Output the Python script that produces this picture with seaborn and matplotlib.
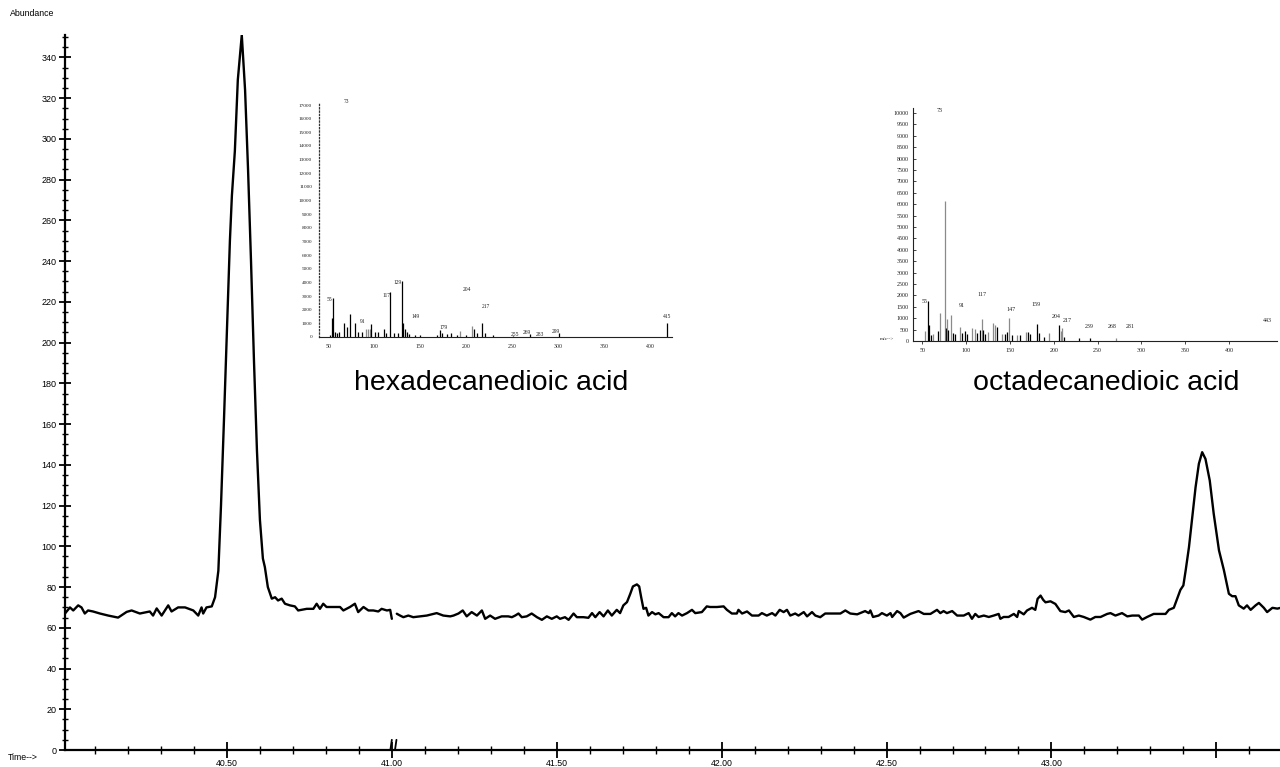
import numpy as np
import pandas as pd
import matplotlib
matplotlib.use("Agg")
import matplotlib.pyplot as plt
from matplotlib.ticker import FixedLocator
import seaborn as sns

# ---------------- chromatogram data (time in min, abundance) ----------------
trace_a = [
    (40.009, 67), (40.024, 70), (40.034, 68.5), (40.049, 71), (40.059, 70),
    (40.069, 67), (40.079, 68.5), (40.094, 68), (40.115, 67), (40.140, 66),
    (40.170, 65), (40.196, 67.8), (40.211, 68.5), (40.236, 67), (40.266, 68),
    (40.276, 66), (40.287, 69.5), (40.302, 66), (40.322, 71), (40.332, 68),
    (40.352, 70), (40.373, 70), (40.398, 68.5), (40.413, 66), (40.423, 70),
    (40.428, 67), (40.438, 70), (40.454, 70.5), (40.464, 75), (40.474, 88),
    (40.482, 120), (40.491, 162), (40.500, 206), (40.509, 250), (40.515, 272),
    (40.524, 294), (40.533, 329), (40.545, 351), (40.555, 324), (40.564, 285),
    (40.573, 240), (40.582, 191), (40.591, 147), (40.600, 113), (40.609, 94),
    (40.615, 89.8), (40.624, 80), (40.636, 74.3), (40.646, 75), (40.655, 73.4),
    (40.666, 74.3), (40.676, 71.8), (40.691, 71), (40.706, 70.5), (40.716, 68.5),
    (40.742, 69.3), (40.762, 69.3), (40.772, 71.8), (40.782, 69.3), (40.792, 71.8),
    (40.802, 70.2), (40.823, 70.2), (40.843, 70.2), (40.853, 68.5), (40.873, 70.2),
    (40.888, 71.8), (40.898, 67.7), (40.914, 70.2), (40.929, 68.5), (40.944, 68.5),
    (40.959, 68), (40.969, 69.3), (40.985, 68.5), (40.995, 68.8), (41.000, 64.4),
]
trace_b = [
    (41.015, 66.9), (41.025, 66), (41.035, 65.2), (41.050, 66), (41.065, 65.2),
    (41.086, 65.6), (41.106, 66), (41.136, 67.2), (41.156, 66), (41.177, 65.6),
    (41.187, 66), (41.202, 67), (41.215, 68.5), (41.227, 65.6), (41.242, 67.7),
    (41.258, 66), (41.273, 68.5), (41.283, 64.4), (41.298, 66), (41.313, 64.4),
    (41.333, 65.6), (41.353, 65.6), (41.364, 65.2), (41.374, 66), (41.384, 67),
    (41.394, 65.2), (41.409, 65.6), (41.424, 67), (41.440, 65.2), (41.455, 63.9),
    (41.470, 65.6), (41.485, 64.4), (41.500, 65.6), (41.510, 64.4), (41.525, 65.2),
    (41.536, 63.9), (41.551, 67), (41.561, 65.2), (41.581, 65.2), (41.596, 64.9),
    (41.607, 67.2), (41.617, 65.2), (41.630, 67.7), (41.642, 65.6), (41.655, 68.5),
    (41.667, 66), (41.682, 68.8), (41.692, 67.2), (41.702, 71), (41.713, 72.6),
    (41.723, 76.7), (41.731, 80.3), (41.743, 81.3), (41.750, 80.3), (41.756, 75),
    (41.763, 69.3), (41.771, 69.8), (41.778, 66), (41.789, 67.7), (41.799, 66.6),
    (41.809, 67.2), (41.824, 65.2), (41.839, 65.2), (41.849, 67.2), (41.859, 65.6),
    (41.869, 67.2), (41.880, 66), (41.895, 67.2), (41.910, 68.8), (41.920, 67.2),
    (41.940, 67.7), (41.955, 70.5), (41.965, 70.2), (41.986, 70.2), (42.006, 70.5),
    (42.016, 68.8), (42.031, 67), (42.046, 67), (42.051, 68.8), (42.062, 67),
    (42.077, 68), (42.092, 66), (42.112, 66), (42.122, 67.2), (42.137, 66),
    (42.153, 67.2), (42.163, 66), (42.176, 68.8), (42.188, 67.7), (42.198, 68.8),
    (42.208, 66), (42.223, 67), (42.233, 66), (42.249, 67.7), (42.259, 65.6),
    (42.274, 67.7), (42.284, 66), (42.299, 65.2), (42.314, 67), (42.335, 67),
    (42.360, 67), (42.375, 68.5), (42.390, 67), (42.411, 66.6), (42.420, 67.2),
    (42.435, 68.2), (42.446, 67.2), (42.451, 68.5), (42.459, 65.3), (42.476, 66),
    (42.486, 67.2), (42.501, 66), (42.512, 67.2), (42.517, 65.3), (42.532, 68.2),
    (42.542, 67.2), (42.552, 65), (42.572, 66.8), (42.597, 68.2), (42.613, 66.8),
    (42.633, 66.8), (42.653, 68.8), (42.663, 67.2), (42.673, 68.2), (42.683, 67.2),
    (42.699, 68.2), (42.714, 66), (42.734, 66), (42.749, 67.2), (42.759, 64.4),
    (42.769, 66.8), (42.779, 65.3), (42.795, 66), (42.810, 65.3), (42.825, 66),
    (42.840, 66.8), (42.845, 64.4), (42.855, 65.3), (42.870, 65.3), (42.886, 66.8),
    (42.896, 65.3), (42.901, 68.2), (42.916, 66.6), (42.926, 68.5), (42.941, 69.8),
    (42.951, 68.8), (42.958, 74.2), (42.967, 75.8), (42.975, 73.7), (42.982, 72.5),
    (42.997, 73), (43.012, 71.7), (43.027, 68.2), (43.042, 67.7), (43.053, 68.5),
    (43.068, 65.3), (43.083, 66), (43.098, 65.3), (43.118, 64), (43.133, 65.3),
    (43.149, 65.3), (43.169, 66.8), (43.179, 67.2), (43.194, 66), (43.214, 67.2),
    (43.230, 65.6), (43.245, 66), (43.265, 66), (43.275, 64), (43.290, 65.3),
    (43.310, 66.8), (43.331, 66.8), (43.346, 66.8), (43.356, 68.8), (43.371, 69.8),
    (43.381, 74.2), (43.391, 78.6), (43.400, 80.8), (43.407, 88.2), (43.417, 99.6),
    (43.427, 114.4), (43.437, 129), (43.447, 140.5), (43.457, 146.2), (43.467, 142.9),
    (43.480, 132.3), (43.492, 116), (43.508, 98), (43.523, 88.2), (43.538, 76.7),
    (43.548, 75.5), (43.558, 75.5), (43.568, 71), (43.583, 69.4), (43.593, 71),
    (43.604, 68.8), (43.619, 71), (43.629, 72.2), (43.644, 69.8), (43.654, 67.7),
    (43.670, 69.8), (43.685, 69.4), (43.695, 69.8),
]

y_major = [0, 20, 40, 60, 80, 100, 120, 140, 160, 180, 200, 220, 240, 260, 280, 300, 320, 340]
x_major = [40.5, 41.0, 41.5, 42.0, 42.5, 43.0, 43.5]
x_major_labels = ["40.50", "41.00", "41.50", "42.00", "42.50", "43.00", ""]
compound_names = ["hexadecanedioic acid", "octadecanedioic acid"]

# ---------------- inset 1: hexadecanedioic acid spectrum ----------------
ms1_mz = [52, 54, 55, 57, 59, 61, 67, 70, 73, 79, 82, 86, 91, 93, 95, 96, 101, 104,
          110, 113, 117, 121, 126, 130, 131, 133, 135, 138, 144, 150, 168, 171, 174,
          179, 183, 190, 193, 200, 206, 208, 211, 217, 220, 229, 251, 269, 301, 418]
ms1_int = [147, 1368, 2833, 391, 317, 391, 1001, 708, 1685, 1001, 391, 391, 562, 562,
           562, 928, 391, 391, 562, 269, 3321, 269, 317, 4103, 1050, 562, 391, 220, 147,
           147, 147, 513, 269, 220, 317, 147, 464, 147, 806, 562, 317, 1001, 269, 147,
           73, 220, 269, 1050]
ms1_shade = ["k", "k", "k", "k", "k", "k", "k", "k", "k", "k", "k", "k", "g", "g",
             "g", "k", "k", "k", "k", "k", "k", "k", "k", "k", "k", "k", "k", "k", "k",
             "k", "k", "k", "k", "k", "k", "k", "g", "k", "g", "k", "k", "k", "k", "k",
             "k", "k", "k", "k"]
ms1_labels = ["73", "55", "91", "117", "129", "149", "179", "204", "217", "255", "269", "283", "299", "415"]
ms1_label_mz = [70, 51, 87.3, 113.4, 124.9, 144.9, 174.9, 200.3, 221, 252.8, 265.5, 280, 297.4, 417.7]
ms1_label_y = [17238, 2762, 1121, 3077, 3978, 1487, 711, 3516, 2271, 150, 350, 150, 391, 1487]
ms1_yticks = list(range(0, 17001, 1000))
ms1_xticks = [50, 100, 150, 200, 250, 300, 350, 400]

# ---------------- inset 2: octadecanedioic acid spectrum ----------------
ms2_mz = [52.9, 55.9, 57.4, 59.7, 62.4, 68, 70, 75.7, 76.8, 78.3, 79.5, 82.2, 84.4, 87.1,
          92.8, 94.7, 98.5, 100.4, 106.1, 109.9, 111.8, 115.6, 117.6, 118.7, 121.3, 125.1,
          130.1, 132.8, 134.7, 140.4, 144.2, 146.8, 148.7, 151.8, 157.5, 161.3, 167.8,
          170.1, 172.7, 180.4, 183, 188.7, 194.8, 205.8, 207.7, 209.6, 211.5, 228.7,
          241.2, 270.9]
ms2_int = [439, 1769, 702, 263, 292, 439, 1213, 6140, 556, 965, 482, 1140, 336, 292,
           629, 336, 453, 292, 585, 526, 336, 482, 965, 482, 292, 380, 789, 702, 629,
           292, 292, 380, 1023, 263, 263, 263, 380, 409, 322, 746, 336, 190, 336, 702,
           453, 585, 190, 117, 117, 117]
ms2_shade = ["g", "k", "k", "k", "g", "k", "g", "g", "k", "g", "k", "g", "k", "k",
             "g", "k", "k", "k", "g", "g", "k", "k", "g", "k", "k", "g", "g", "g", "k",
             "g", "k", "k", "g", "k", "g", "k", "g", "k", "k", "k", "k", "k", "g", "k",
             "g", "g", "k", "k", "k", "g"]
ms2_labels = ["73", "55", "91", "117", "147", "159", "204", "217", "239", "268", "281", "443"]
ms2_label_mz = [70, 52.9, 94.7, 117.6, 150.7, 179.2, 203.2, 215.3, 240.1, 266.7, 287.7, 443.6]
ms2_label_y = [10088, 1724, 1548, 2018, 1360, 1579, 1096, 890, 627, 627, 627, 890]
ms2_yticks = list(range(0, 10001, 500))
ms2_xticks = [50, 100, 150, 200, 250, 300, 350, 400]

# ---------------- styling ----------------
sns.set_theme(style="ticks")
plt.rcParams['font.family'] = ['Liberation Sans', 'DejaVu Sans']
plt.rcParams['text.color'] = 'black'
SERIF = ['Liberation Serif', 'DejaVu Serif']
W, H = 1280, 767
GRAY = "#8a8a8a"

fig = plt.figure(figsize=(12.8, 7.67), dpi=100)
fig.patch.set_facecolor("white")

ax = fig.add_axes([65 / W, 17 / H, (W - 65) / W, (750 - 35) / H])
ax.set_facecolor("none")

df = pd.concat([
    pd.DataFrame(trace_a, columns=["time", "abundance"]).assign(segment=0),
    pd.DataFrame(trace_b, columns=["time", "abundance"]).assign(segment=1),
], ignore_index=True)

sns.lineplot(data=df, x="time", y="abundance", units="segment", estimator=None,
             sort=False, color="black", lw=1.7, ax=ax, legend=False)

ax.set_xlim(40.009, 43.693)
ax.set_ylim(0, 351)
ax.set_xlabel("")
ax.set_ylabel("")
for s in ["top", "right"]:
    ax.spines[s].set_visible(False)
for s in ["left", "bottom"]:
    ax.spines[s].set_linewidth(1.6)
    ax.spines[s].set_color("black")

ax.set_yticks(y_major)
ax.set_yticklabels([str(v) for v in y_major])
ax.yaxis.set_minor_locator(FixedLocator([v for v in range(5, 351, 5) if v % 20 != 0]))
ax.set_xticks(x_major)
ax.set_xticklabels(x_major_labels)
minor_x = [round(40.1 + 0.1 * i, 1) for i in range(36)]
ax.xaxis.set_minor_locator(FixedLocator([v for v in minor_x if round(v * 10) % 5 != 0]))

ax.tick_params(axis="y", which="major", direction="inout", length=8, width=1.3,
               labelsize=6.5, pad=2, color="black", labelcolor="black", left=True)
ax.tick_params(axis="y", which="minor", direction="inout", length=4, width=1.0,
               color="black", left=True)
ax.tick_params(axis="x", which="major", direction="inout", length=11, width=1.3,
               labelsize=6.3, pad=1, color="black", labelcolor="black", bottom=True)
ax.tick_params(axis="x", which="minor", direction="inout", length=6, width=1.0,
               color="black", bottom=True)

# axis break marks near 41.00
for bx in [40.998, 41.012]:
    ax.plot([bx - 0.002, bx + 0.002], [0.5, 5.0], color="black", lw=1.3, clip_on=False)

fig.text(10 / W, 1 - 13 / H, "Abundance", fontsize=6.3, ha="left", va="center", color="black")
fig.text(8 / W, 1 - 757 / H, "Time-->", fontsize=6.3, ha="left", va="center", color="black")

fig.text(491 / W, 1 - 383 / H, compound_names[0], fontsize=20.5, ha="center", va="center", color="black")
fig.text(1106 / W, 1 - 383 / H, compound_names[1], fontsize=20.5, ha="center", va="center", color="black")


def style_inset(a):
    a.set_facecolor("none")
    a.grid(False)
    for s in ["top", "right"]:
        a.spines[s].set_visible(False)
    a.spines["bottom"].set_linewidth(0.8)
    a.spines["bottom"].set_color("#222222")


# inset 1
ax1 = fig.add_axes([319 / W, (H - 337) / H, (672 - 319) / W, (337 - 103) / H])
style_inset(ax1)
ax1.vlines(ms1_mz, 0, ms1_int, colors=["black" if c == "k" else GRAY for c in ms1_shade], lw=0.9)
ax1.set_xlim(39.8, 423.5)
ax1.set_ylim(0, 17150)
ax1.spines["left"].set_linestyle(":")
ax1.spines["left"].set_linewidth(0.9)
ax1.spines["left"].set_color("#333333")
ax1.set_yticks(ms1_yticks)
ax1.set_yticklabels([str(v) for v in ms1_yticks], fontsize=3.8, family=SERIF)
ax1.set_xticks(ms1_xticks)
ax1.set_xticklabels([str(v) for v in ms1_xticks], fontsize=4.2, family=SERIF)
ax1.tick_params(axis="y", length=0, pad=5, labelcolor="#222222")
ax1.tick_params(axis="x", length=0, pad=5, labelcolor="#222222")
for t, m, v in zip(ms1_labels, ms1_label_mz, ms1_label_y):
    ax1.text(m, v, t, fontsize=4, ha="center", va="center", family=SERIF, color="#222222")

# inset 2
ax2 = fig.add_axes([913 / W, (H - 341) / H, (1277 - 913) / W, (341 - 108) / H])
style_inset(ax2)
ax2.vlines(ms2_mz, 0, ms2_int, colors=["black" if c == "k" else GRAY for c in ms2_shade], lw=0.9)
ax2.set_xlim(39.2, 454.7)
ax2.set_ylim(0, 10219)
ax2.spines["left"].set_linewidth(0.8)
ax2.spines["left"].set_color("#222222")
ax2.set_yticks(ms2_yticks)
ax2.set_yticklabels([str(v) for v in ms2_yticks], fontsize=4.3, family=SERIF)
ax2.set_xticks(ms2_xticks)
ax2.set_xticklabels([str(v) for v in ms2_xticks], fontsize=4.3, family=SERIF)
ax2.tick_params(axis="y", direction="in", length=2, width=0.6, pad=3, labelcolor="#222222", left=True)
ax2.tick_params(axis="x", direction="out", length=2, width=0.6, pad=3, labelcolor="#222222", bottom=True)
for t, m, v in zip(ms2_labels, ms2_label_mz, ms2_label_y):
    ax2.text(m, v, t, fontsize=4.3, ha="center", va="center", family=SERIF, color="#222222")
fig.text(880 / W, 1 - 339 / H, "m/z-->", fontsize=3.8, ha="left", va="center", family=SERIF, color="#222222")

fig.savefig("out.png", dpi=100, facecolor="white")
